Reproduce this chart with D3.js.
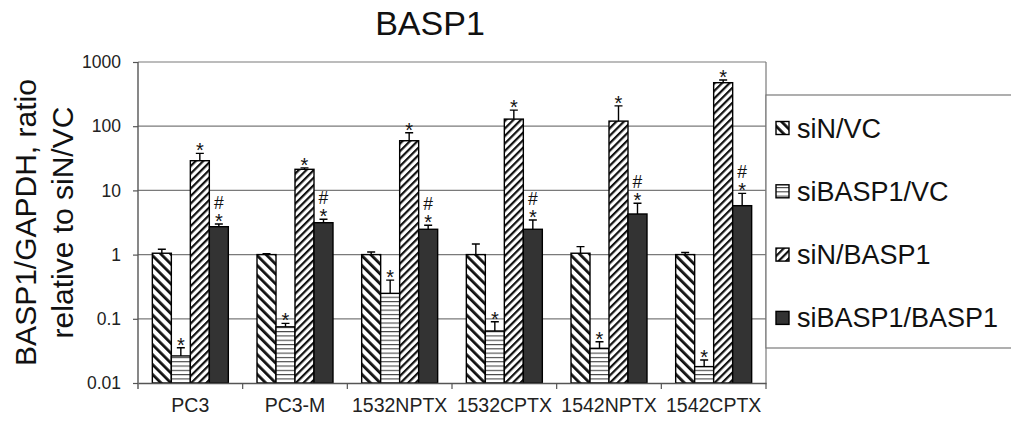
<!DOCTYPE html>
<html>
<head>
<meta charset="utf-8">
<script src="https://cdn.jsdelivr.net/npm/d3@7"></script>
<style>
  body { margin: 0; background: #fff; }
  svg { display: block; font-family: "Liberation Sans", Arial, sans-serif; }
</style>
</head>
<body>
<div id="chart"></div>
<script>
// data
const categories = ["PC3", "PC3-M", "1532NPTX", "1532CPTX", "1542NPTX", "1542CPTX"];
const seriesNames = ["siN/VC", "siBASP1/VC", "siN/BASP1", "siBASP1/BASP1"];

const siNVC = [1.05, 1.0, 1.0, 1.0, 1.05, 1.0];
const siNVCTop = [1.21, 1.03, 1.1, 1.46, 1.33, 1.08];
const siBASP1VC = [0.0264, 0.075, 0.249, 0.0646, 0.0347, 0.018];
const siBASP1VCTop = [0.0355, 0.085, 0.40, 0.090, 0.044, 0.0228];
const siNBASP1 = [29, 21.3, 59.4, 129, 120, 476];
const siNBASP1Top = [37.8, 22.4, 79, 178, 207, 525];
const siBASP1BASP1 = [2.72, 3.14, 2.48, 2.48, 4.29, 5.78];
const siBASP1BASP1Top = [3.0, 3.55, 2.86, 3.46, 6.3, 9.0];

const stars = [false, true, true, true];
const hashes = [false, false, false, true];

const yTicks = [0.01, 0.1, 1, 10, 100, 1000];

const values = [siNVC, siBASP1VC, siNBASP1, siBASP1BASP1];
const tops = [siNVCTop, siBASP1VCTop, siNBASP1Top, siBASP1BASP1Top];

const width = 1011, height = 423;
const plot = { left: 138, right: 766, top: 62, bottom: 383 };

const svg = d3.select("#chart").append("svg")
  .attr("width", width)
  .attr("height", height);

// hatch patterns
const defs = svg.append("defs");
const hatch = (id, size, w, angle, color) => {
  const p = defs.append("pattern")
    .attr("id", id)
    .attr("patternUnits", "userSpaceOnUse")
    .attr("width", size)
    .attr("height", size)
    .attr("patternTransform", `rotate(${angle})`);
  p.append("rect").attr("width", size).attr("height", size).attr("fill", "#fff");
  p.append("rect").attr("width", w).attr("height", size).attr("fill", color);
};
hatch("p0", 7, 2.8, -45, "#111");
hatch("p1", 4.3, 1.1, 90, "#444");
hatch("p2", 5.3, 2.2, 45, "#111");
const fills = ["url(#p0)", "url(#p1)", "url(#p2)", "#333"];

const x = d3.scaleBand()
  .domain(categories)
  .range([plot.left, plot.right])
  .paddingInner(0.274)
  .paddingOuter(0.137);

const xs = d3.scaleBand()
  .domain(d3.range(seriesNames.length))
  .range([0, x.bandwidth()]);

const y = d3.scaleLog()
  .domain([0.01, 1000])
  .range([plot.bottom, plot.top]);

// gridlines
svg.append("g")
  .selectAll("line")
  .data(yTicks.slice(1))
  .join("line")
  .attr("x1", plot.left)
  .attr("x2", plot.right)
  .attr("y1", d => y(d))
  .attr("y2", d => y(d))
  .attr("stroke", "#7a7a7a")
  .attr("stroke-width", 1.2);

// right border of plot
svg.append("line")
  .attr("x1", plot.right).attr("x2", plot.right)
  .attr("y1", plot.top).attr("y2", plot.bottom)
  .attr("stroke", "#7a7a7a")
  .attr("stroke-width", 1.2);

// bars
const rows = categories.flatMap((c, i) =>
  seriesNames.map((s, j) => ({ c, j, v: values[j][i], t: tops[j][i] }))
);

const bar = svg.append("g")
  .selectAll("g")
  .data(rows)
  .join("g")
  .attr("transform", d => `translate(${x(d.c) + xs(d.j)},0)`);

bar.append("rect")
  .attr("width", xs.bandwidth())
  .attr("y", d => y(d.v))
  .attr("height", d => y(0.01) - y(d.v))
  .attr("fill", d => fills[d.j])
  .attr("stroke", "#000")
  .attr("stroke-width", 1.4);

// error bars (upper only)
const cx = xs.bandwidth() / 2;
bar.append("path")
  .attr("d", d => `M${cx},${y(d.v)}V${y(d.t)}M${cx - 4},${y(d.t)}H${cx + 4}`)
  .attr("stroke", "#000")
  .attr("stroke-width", 1.4)
  .attr("fill", "none");

bar.filter(d => stars[d.j])
  .append("text")
  .attr("x", cx)
  .attr("y", d => y(d.t) + 4)
  .attr("text-anchor", "middle")
  .attr("font-size", 20)
  .attr("fill", "#111")
  .text("*");

bar.filter(d => hashes[d.j])
  .append("text")
  .attr("x", cx)
  .attr("y", d => y(d.t) - 15)
  .attr("text-anchor", "middle")
  .attr("font-size", 17.5)
  .attr("fill", "#111")
  .text("#");

// y axis
const yAxis = svg.append("g")
  .attr("transform", `translate(${plot.left},0)`)
  .call(d3.axisLeft(y).tickValues(yTicks).tickFormat(d => String(d)).tickSize(5).tickSizeOuter(0));
yAxis.select(".domain").attr("stroke", "#555").attr("stroke-width", 1.4).attr("d", `M0,${plot.top}V${plot.bottom + 6}`);
yAxis.selectAll(".tick line").attr("stroke", "#555").attr("stroke-width", 1.2);
yAxis.selectAll(".tick text")
  .attr("x", -17)
  .attr("font-size", 17.5)
  .attr("font-family", "Liberation Sans, Arial, sans-serif")
  .attr("fill", "#222");

// x axis
const xAxis = svg.append("g")
  .attr("transform", `translate(0,${plot.bottom})`)
  .call(d3.axisBottom(x).tickSize(0).tickPadding(0));
xAxis.select(".domain").attr("stroke", "#555").attr("stroke-width", 1.4);
xAxis.selectAll(".tick text")
  .attr("y", 29)
  .attr("dy", 0)
  .attr("font-size", 19.5)
  .attr("font-family", "Liberation Sans, Arial, sans-serif")
  .attr("fill", "#222");
xAxis.append("g")
  .selectAll("line")
  .data(categories.slice(1).concat(["end"]))
  .join("line")
  .attr("x1", d => (d === "end" ? plot.right : x(d) - x.step() * x.paddingInner() / 2))
  .attr("x2", d => (d === "end" ? plot.right : x(d) - x.step() * x.paddingInner() / 2))
  .attr("y1", 0)
  .attr("y2", 6)
  .attr("stroke", "#555")
  .attr("stroke-width", 1.2);

// title
svg.append("text")
  .attr("x", 430)
  .attr("y", 35)
  .attr("text-anchor", "middle")
  .attr("font-size", 34)
  .attr("fill", "#111")
  .text("BASP1");

// y label
const yl = svg.append("text")
  .attr("transform", `translate(0,${(plot.top + plot.bottom) / 2}) rotate(-90)`)
  .attr("text-anchor", "middle")
  .attr("font-size", 30)
  .attr("fill", "#111");
yl.append("tspan").attr("x", 0).attr("y", 36).text("BASP1/GAPDH, ratio");
yl.append("tspan").attr("x", 0).attr("y", 73).text("relative to siN/VC");

// legend
const lg = svg.append("g");
lg.append("rect")
  .attr("x", plot.right)
  .attr("y", 95)
  .attr("width", 260)
  .attr("height", 253)
  .attr("fill", "#fff")
  .attr("stroke", "#7a7a7a")
  .attr("stroke-width", 1.2);

const item = lg.selectAll("g.item")
  .data(seriesNames)
  .join("g")
  .attr("class", "item")
  .attr("transform", (d, i) => `translate(776,${128 + i * 63.3})`);

item.append("rect")
  .attr("x", 0)
  .attr("y", -6.5)
  .attr("width", 13)
  .attr("height", 13)
  .attr("fill", (d, i) => fills[i])
  .attr("stroke", "#000")
  .attr("stroke-width", 1.4);

item.append("text")
  .attr("x", 21)
  .attr("y", 9.5)
  .attr("font-size", 27)
  .attr("fill", "#111")
  .text(d => d);
</script>
</body>
</html>
